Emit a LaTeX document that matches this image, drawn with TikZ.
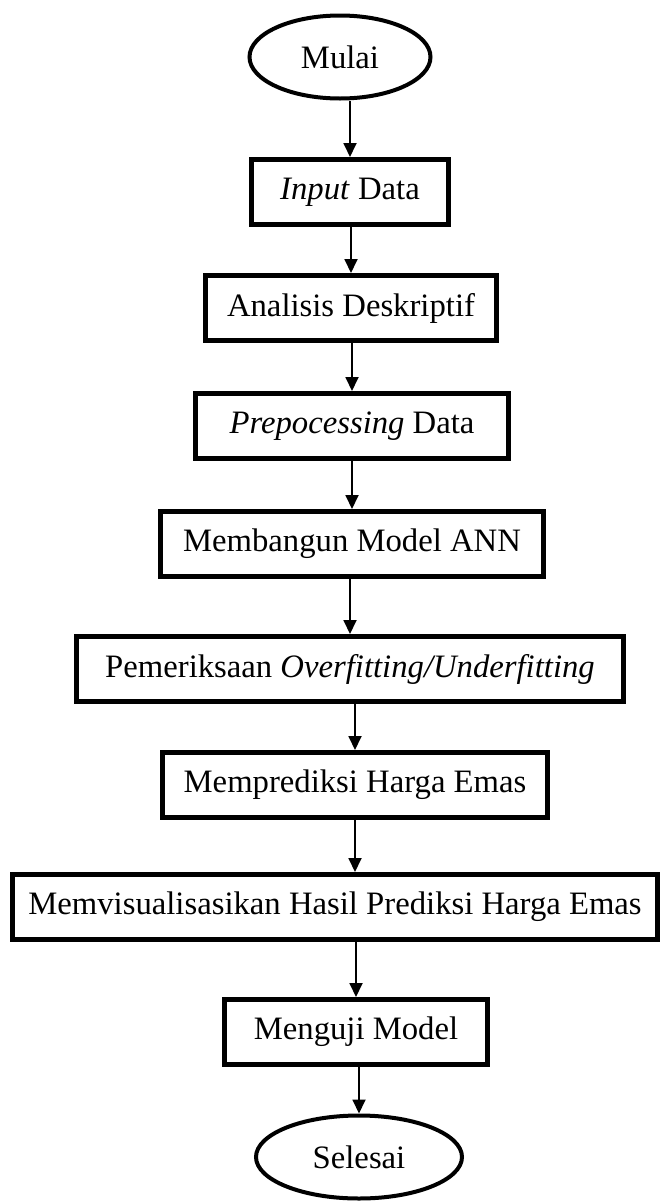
\documentclass[tikz,border=0pt]{standalone}
\usepackage{fontspec}
\setmainfont{Liberation Serif}
\usepackage{tikz}
\usetikzlibrary{shapes.geometric, arrows.meta}

\tikzset{
  kotak/.style={draw, line width=5pt, rectangle, minimum height=65pt, inner sep=0pt},
  elips/.style={draw, line width=4pt, ellipse, minimum height=83pt, inner sep=0pt},
  panah/.style={line width=1.8pt, -{Triangle[length=14pt,width=13pt]}}
}

\begin{document}
\begin{tikzpicture}[x=1pt, y=-1pt, font=\fontsize{32.7}{39}\selectfont]
\useasboundingbox (0,0) rectangle (666,1203);
% langkah-langkah
\node[elips, minimum width=181pt] (mulai) at (340,57) {Mulai};
\node[kotak, minimum width=197pt] (input) at (350,192) {\textit{Input} Data};
\node[kotak, minimum width=291pt] (analisis) at (351,308) {Analisis Deskriptif};
\node[kotak, minimum width=313pt] (prepro) at (352,426) {\textit{Prepocessing} Data};
\node[kotak, minimum width=383pt] (model) at (352,544) {Membangun Model ANN};
\node[kotak, minimum width=547pt] (periksa) at (350,669) {Pemeriksaan \textit{Overfitting/Underfitting}};
\node[kotak, minimum width=385pt] (prediksi) at (355,785) {Memprediksi Harga Emas};
\node[kotak, minimum width=645pt] (visual) at (335,907) {Memvisualisasikan Hasil Prediksi Harga Emas};
\node[kotak, minimum width=263pt] (uji) at (356,1032) {Menguji Model};
\node[elips, minimum width=206pt] (selesai) at (359,1157) {Selesai};
% panah
\foreach \a/\b in {mulai/input, input/analisis, analisis/prepro, prepro/model,
  model/periksa, periksa/prediksi, visual/uji, uji/selesai}
  \draw[panah] (\b.north |- \a.south) -- (\b.north);
\draw[panah] (prediksi.south) -- (prediksi.south |- visual.north);
\end{tikzpicture}
\end{document}
